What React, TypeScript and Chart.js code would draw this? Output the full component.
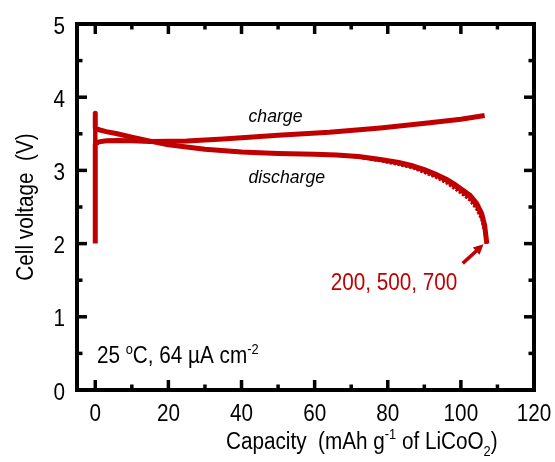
import React, { useEffect, useRef } from 'react';
import { Chart, registerables } from 'chart.js';
Chart.register(...registerables);

// ---- data (capacity in mAh/g, voltage in V) ----
const CAP_CHARGE = [0, 0, 1, 3, 6, 10, 15, 25, 35, 50, 64, 78, 91.5, 100, 106.5];
const V_CHARGE = [2.0, 3.36, 3.39, 3.405, 3.41, 3.405, 3.395, 3.40, 3.43, 3.48, 3.52, 3.58, 3.65, 3.70, 3.75];

const CAP_REST = [0, 0];
const V_REST = [3.36, 3.58];

const CAP_DISCHARGE = [0, 0, 1, 3, 6, 10, 15, 20, 30, 40, 50, 60, 66, 72, 78, 83, 87, 90, 93, 96, 98, 100, 102.5, 104.3, 105.7, 106.5, 107.1];
const V_DIS_200 = [3.78, 3.58, 3.555, 3.53, 3.50, 3.455, 3.40, 3.35, 3.29, 3.25, 3.23, 3.22, 3.21, 3.19, 3.15, 3.11, 3.06, 3.01, 2.95, 2.88, 2.82, 2.75, 2.66, 2.55, 2.41, 2.25, 2.00];
const V_DIS_500 = [3.78, 3.58, 3.555, 3.53, 3.50, 3.455, 3.40, 3.35, 3.29, 3.25, 3.23, 3.22, 3.21, 3.18, 3.13, 3.08, 3.03, 2.97, 2.91, 2.83, 2.76, 2.69, 2.59, 2.47, 2.33, 2.16, 2.00];
const V_DIS_700 = [3.78, 3.58, 3.555, 3.53, 3.50, 3.455, 3.40, 3.35, 3.29, 3.25, 3.23, 3.22, 3.21, 3.185, 3.14, 3.095, 3.045, 2.99, 2.93, 2.855, 2.79, 2.72, 2.625, 2.51, 2.37, 2.20, 2.00];

const X_TICKS = [0, 20, 40, 60, 80, 100, 120];
const X_MINOR = [10, 30, 50, 70, 90, 110];
const Y_TICKS = [0, 1, 2, 3, 4, 5];
const Y_MINOR = [0.5, 1.5, 2.5, 3.5, 4.5];

const X_TITLE = 'Capacity  (mAh g';
const Y_TITLE = 'Cell voltage  (V)';
const CYCLES_LABEL = '200, 500, 700';

// annotation anchors (data units)
const CHARGE_LABEL_AT = { x: 41.9, y: 3.66 };
const DISCHARGE_LABEL_AT = { x: 41.9, y: 2.83 };
const CYCLES_LABEL_AT = { x: 64.4, y: 1.37 };
const COND_LABEL_AT = { x: 0.45, y: 0.366 };
const ARROW_FROM = { x: 100.5, y: 1.73 };
const ARROW_TO = { x: 106.2, y: 1.99 };

const RED = '#c00000';
const FONT = '"Liberation Sans", Arial, sans-serif';
const SIZE = 23;
const SX = 0.9;

type Seg = { t: string; k?: 'sup' | 'sub' };

function pts(xs: number[], ys: number[]) {
  return xs.map((x, i) => ({ x, y: ys[i] }));
}

function segFont(size: number, italic: boolean) {
  return `${italic ? 'italic ' : ''}${size}px ${FONT}`;
}

function richWidth(ctx: CanvasRenderingContext2D, segs: Seg[], size: number, italic: boolean) {
  let w = 0;
  for (const s of segs) {
    const sz = s.k ? size * 0.62 : size;
    ctx.font = segFont(sz, italic);
    w += ctx.measureText(s.t).width;
  }
  return w;
}

function drawRich(
  ctx: CanvasRenderingContext2D,
  segs: Seg[],
  x: number,
  y: number,
  opts: { size?: number; color?: string; italic?: boolean; align?: 'left' | 'center' | 'right'; sx?: number } = {}
) {
  const size = opts.size ?? SIZE;
  const italic = !!opts.italic;
  const sx = opts.sx ?? SX;
  const w = richWidth(ctx, segs, size, italic);
  ctx.save();
  ctx.translate(x, y);
  ctx.scale(sx, 1);
  let cx = 0;
  if (opts.align === 'center') cx = -w / 2;
  else if (opts.align === 'right') cx = -w;
  ctx.fillStyle = opts.color ?? '#000';
  ctx.textBaseline = 'alphabetic';
  ctx.textAlign = 'left';
  for (const s of segs) {
    const sz = s.k ? size * 0.62 : size;
    ctx.font = segFont(sz, italic);
    let dy = 0;
    if (s.k === 'sup') dy = -size * 0.42;
    if (s.k === 'sub') dy = size * 0.3;
    ctx.fillText(s.t, cx, dy);
    cx += ctx.measureText(s.t).width;
  }
  ctx.restore();
}

const decorPlugin = {
  id: 'decor',
  afterDraw(chart: any) {
    const ctx: CanvasRenderingContext2D = chart.ctx;
    const xs = chart.scales.x;
    const ys = chart.scales.y;
    const a = chart.chartArea;
    const L = a.left, R = a.right, T = a.top, B = a.bottom;

    ctx.save();
    ctx.strokeStyle = '#000';
    ctx.lineWidth = 4;
    ctx.strokeRect(L, T, R - L, B - T);

    ctx.lineWidth = 3.5;
    ctx.lineCap = 'butt';
    const tick = (x1: number, y1: number, x2: number, y2: number) => {
      ctx.beginPath();
      ctx.moveTo(x1, y1);
      ctx.lineTo(x2, y2);
      ctx.stroke();
    };
    const MAJ = 10, MIN = 5.5;
    X_TICKS.forEach(v => {
      const p = xs.getPixelForValue(v);
      if (p <= L + 2 || p >= R - 2) return;
      tick(p, B, p, B - MAJ);
      tick(p, T, p, T + MAJ);
    });
    X_MINOR.forEach(v => {
      const p = xs.getPixelForValue(v);
      tick(p, B, p, B - MIN);
      tick(p, T, p, T + MIN);
    });
    Y_TICKS.forEach(v => {
      const p = ys.getPixelForValue(v);
      if (p <= T + 2 || p >= B - 2) return;
      tick(L, p, L + MAJ, p);
      tick(R, p, R - MAJ, p);
    });
    Y_MINOR.forEach(v => {
      const p = ys.getPixelForValue(v);
      tick(L, p, L + MIN, p);
      tick(R, p, R - MIN, p);
    });

    X_TICKS.forEach(v => {
      drawRich(ctx, [{ t: String(v) }], xs.getPixelForValue(v), B + 31, { align: 'center' });
    });
    Y_TICKS.forEach(v => {
      drawRich(ctx, [{ t: String(v) }], L - 12, ys.getPixelForValue(v) + 9.5, { align: 'right' });
    });

    drawRich(
      ctx,
      [{ t: X_TITLE }, { t: '-1', k: 'sup' }, { t: ' of LiCoO' }, { t: '2', k: 'sub' }, { t: ')' }],
      226,
      B + 59,
      { align: 'left' }
    );
    ctx.save();
    ctx.translate(33, (T + B) / 2);
    ctx.rotate(-Math.PI / 2);
    drawRich(ctx, [{ t: Y_TITLE }], 0, 0, { align: 'center' });
    ctx.restore();

    drawRich(ctx, [{ t: 'charge' }], xs.getPixelForValue(CHARGE_LABEL_AT.x), ys.getPixelForValue(CHARGE_LABEL_AT.y), { italic: true, size: 19, sx: 0.93 });
    drawRich(ctx, [{ t: 'discharge' }], xs.getPixelForValue(DISCHARGE_LABEL_AT.x), ys.getPixelForValue(DISCHARGE_LABEL_AT.y), { italic: true, size: 19, sx: 0.93 });

    drawRich(ctx, [{ t: CYCLES_LABEL }], xs.getPixelForValue(CYCLES_LABEL_AT.x), ys.getPixelForValue(CYCLES_LABEL_AT.y), { color: RED });

    drawRich(
      ctx,
      [{ t: '25 ' }, { t: 'o', k: 'sup' }, { t: 'C, 64 ' }, { t: 'µ' }, { t: 'A cm' }, { t: '-2', k: 'sup' }],
      xs.getPixelForValue(COND_LABEL_AT.x),
      ys.getPixelForValue(COND_LABEL_AT.y)
    );

    const x1 = xs.getPixelForValue(ARROW_FROM.x), y1 = ys.getPixelForValue(ARROW_FROM.y);
    const x2 = xs.getPixelForValue(ARROW_TO.x), y2 = ys.getPixelForValue(ARROW_TO.y);
    const ang = Math.atan2(y2 - y1, x2 - x1);
    const hl = 10, hw = 5;
    ctx.strokeStyle = RED;
    ctx.fillStyle = RED;
    ctx.lineWidth = 3.5;
    ctx.beginPath();
    ctx.moveTo(x1, y1);
    ctx.lineTo(x2 - Math.cos(ang) * hl * 0.8, y2 - Math.sin(ang) * hl * 0.8);
    ctx.stroke();
    ctx.beginPath();
    ctx.moveTo(x2, y2);
    ctx.lineTo(x2 - Math.cos(ang) * hl - Math.sin(ang) * hw, y2 - Math.sin(ang) * hl + Math.cos(ang) * hw);
    ctx.lineTo(x2 - Math.cos(ang) * hl + Math.sin(ang) * hw, y2 - Math.sin(ang) * hl - Math.cos(ang) * hw);
    ctx.closePath();
    ctx.fill();

    ctx.restore();
  },
};

export default function App() {
  const ref = useRef<HTMLCanvasElement>(null);
  useEffect(() => {
    document.body.style.margin = '0';
    const canvas = ref.current!;
    const line = (data: any[], w: number, dash: number[] = []) => ({
      data,
      showLine: true,
      borderColor: RED,
      backgroundColor: RED,
      borderWidth: w,
      borderDash: dash,
      pointRadius: 0,
      tension: 0,
      borderJoinStyle: 'round' as const,
      borderCapStyle: 'butt' as const,
      clip: false as const,
    });
    const chart = new Chart(canvas, {
      type: 'scatter',
      data: {
        datasets: [
          line(pts(CAP_DISCHARGE, V_DIS_500), 3, [2.5, 1.5]),
          line(pts(CAP_DISCHARGE, V_DIS_700), 3.5),
          line(pts(CAP_DISCHARGE, V_DIS_200), 5),
          line(pts(CAP_REST, V_REST), 4.5),
          line(pts(CAP_CHARGE, V_CHARGE), 5),
        ],
      },
      options: {
        responsive: false,
        animation: false,
        events: [],
        layout: { padding: { left: 77, right: 21, top: 24, bottom: 72 } },
        plugins: { legend: { display: false }, tooltip: { enabled: false } },
        scales: {
          x: { type: 'linear', min: -5, max: 120, display: false },
          y: { type: 'linear', min: 0, max: 5, display: false },
        },
      },
      plugins: [decorPlugin],
    });
    return () => chart.destroy();
  }, []);
  return (
    <div style={{ width: 555, height: 462 }}>
      <canvas ref={ref} width={555} height={462} style={{ display: 'block', width: 555, height: 462 }} />
    </div>
  );
}
